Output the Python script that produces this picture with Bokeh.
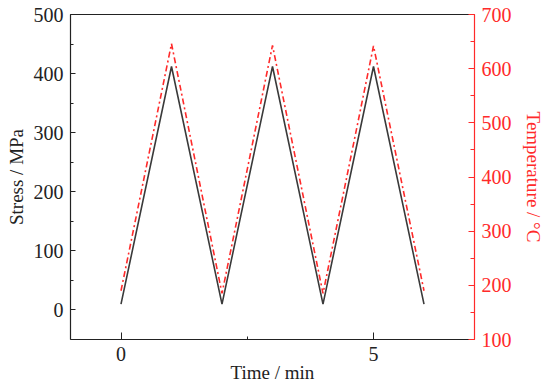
from bokeh.plotting import figure
from bokeh.models import LinearAxis, Range1d, SingleIntervalTicker, FixedTicker
from bokeh.embed import file_html
from bokeh.resources import INLINE

time_min = [0, 1, 2, 3, 4, 5, 6]
stress_mpa = [10, 412, 10, 412, 10, 412, 10]
temperature_c = [190, 646, 185, 643, 185, 642, 190]

FONT = "Liberation Serif"
RED = "#ff2a2a"
AX = "#222222"

p = figure(width=550, height=389, output_backend="svg", toolbar_location=None,
           x_range=Range1d(-1, 7), y_range=Range1d(-50, 500),
           min_border_left=70, min_border_right=76, min_border_top=14, min_border_bottom=50)
p.extra_y_ranges = {"temp": Range1d(100, 700)}
p.grid.visible = False
p.outline_line_color = None
p.background_fill_color = "white"
p.border_fill_color = "white"

def style(ax, color, tick_in, minor_in):
    ax.axis_line_color = color
    ax.axis_line_width = 1.2
    ax.major_tick_line_color = color
    ax.minor_tick_line_color = color
    ax.major_tick_in = tick_in
    ax.major_tick_out = 0
    ax.minor_tick_in = minor_in
    ax.minor_tick_out = 0
    ax.major_label_text_font = FONT
    ax.major_label_text_font_size = "20px"
    ax.major_label_text_color = color
    ax.axis_label_text_font = FONT
    ax.axis_label_text_font_size = "19px"
    ax.axis_label_text_font_style = "normal"
    ax.axis_label_text_color = color

xa = p.xaxis[0]
xa.ticker = SingleIntervalTicker(interval=5, num_minor_ticks=2)
xa.axis_label = "Time / min"
style(xa, AX, 7, 3)
xa.major_label_standoff = 7
xa.axis_label_standoff = -2

ya = p.yaxis[0]
ya.ticker = SingleIntervalTicker(interval=100, num_minor_ticks=2)
ya.axis_label = "Stress / MPa"
style(ya, AX, 5, 3)
ya.major_label_standoff = 7
ya.axis_label_standoff = 4

ra = LinearAxis(y_range_name="temp", axis_label="Temperature / \u00b0C",
                ticker=SingleIntervalTicker(interval=100, num_minor_ticks=2))
style(ra, RED, 6, 4)
ra.major_label_standoff = 7
ra.axis_label_standoff = 8
p.add_layout(ra, "right")

top = LinearAxis(ticker=FixedTicker(ticks=[]))
top.axis_line_color = AX
top.axis_line_width = 1.2
top.major_label_text_font_size = "0px"
top.major_tick_in = 0
top.major_tick_out = 0
top.minor_tick_in = 0
top.minor_tick_out = 0
top.major_label_standoff = 0
p.add_layout(top, "above")

p.line(time_min, stress_mpa, line_color="#3a3a3a", line_width=1.6)
p.line(time_min, temperature_c, y_range_name="temp", line_color=RED,
       line_width=1.6, line_dash="6 3 2 3")

open("out.html", "w").write(file_html(p, INLINE))
